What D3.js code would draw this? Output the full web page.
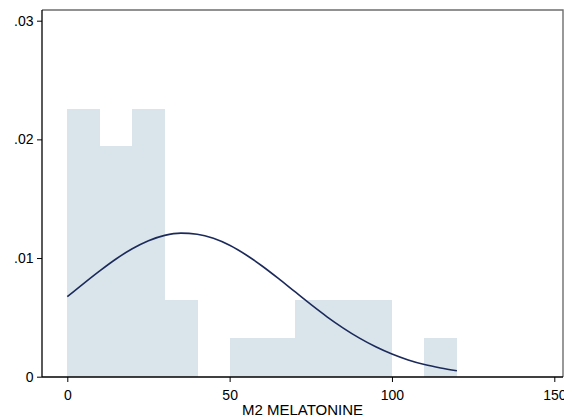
<!DOCTYPE html>
<html>
<head>
<meta charset="utf-8">
<style>
  body { margin: 0; background: #fff; font-family: "Liberation Sans", Arial, sans-serif; }
  .tick text { font-size: 14px; fill: #000; font-family: "Liberation Sans", Arial, sans-serif; }
  .tick line { stroke: #000; }
</style>
<title>M2 MELATONINE histogram</title>
</head>
<body>
<script src="https://cdn.jsdelivr.net/npm/d3@7"></script>
<script>

// histogram bins (start of bin, width 10) and densities
var binStarts = [0, 10, 20, 30, 40, 50, 60, 70, 80, 90, 100, 110];
var binDensity = [0.0226, 0.0194, 0.0226, 0.00645, 0, 0.00323, 0.00323, 0.00645, 0.00645, 0.00645, 0, 0.00323];
var binWidth = 10;

// normal density overlay
var curveX = [0, 5, 10, 15, 20, 25, 30, 35, 40, 45, 50, 55, 60, 65, 70, 75, 80, 85, 90, 95, 100, 105, 110, 115, 120];
var curveY = [0.00674, 0.00785, 0.00892, 0.00992, 0.01078, 0.01146, 0.01191, 0.0121, 0.01201, 0.01167, 0.01108, 0.01028,
              0.00933, 0.00828, 0.00718, 0.00609, 0.00505, 0.0041, 0.00325, 0.00252, 0.00191, 0.00141, 0.00102, 0.00073, 0.0005];

var xTicks = [0, 50, 100, 150];
var yTicks = [0, 0.01, 0.02, 0.03];
var yTickLabels = ["0", ".01", ".02", ".03"];
var xTitle = "M2 MELATONINE";

var W = 564, H = 417;
var plotLeft = 42, plotRight = 563, plotTop = 10, plotBottom = 377;

var svg = d3.select("body").append("svg")
    .attr("width", W)
    .attr("height", H);

var x = d3.scaleLinear().domain([0, 150]).range([67.3, 554.3]);
var y = d3.scaleLinear().domain([0, 0.03]).range([376.7, 20.7]);

// bars
svg.append("g")
  .selectAll("rect")
  .data(binStarts)
  .enter()
  .append("rect")
    .attr("x", (d) => x(d))
    .attr("width", (d) => x(d + binWidth) - x(d) + 0.5)
    .attr("y", (d, i) => y(binDensity[i]))
    .attr("height", (d, i) => y(0) - y(binDensity[i]))
    .attr("shape-rendering", "crispEdges")
    .style("fill", "#d9e4eb");

// normal curve
var line = d3.line()
    .x((d) => x(d))
    .y((d, i) => y(curveY[i]))
    .curve(d3.curveMonotoneX);

svg.append("path")
    .datum(curveX)
    .attr("d", line)
    .style("fill", "none")
    .style("stroke", "#1c2a5a")
    .style("stroke-width", 1.6);

// plot region outline (top and right)
svg.append("path")
    .attr("d", `M${plotLeft},${plotTop}H${plotRight}V${plotBottom}`)
    .style("fill", "none")
    .style("stroke", "#6e6e6e")
    .style("stroke-width", 1.4);

// axes
var xAxis = svg.append("g")
    .attr("transform", `translate(0,${plotBottom})`)
    .call(d3.axisBottom(x).tickValues(xTicks).tickSize(5).tickPadding(8.5).tickFormat(d3.format("d")));
xAxis.select(".domain").attr("d", `M${plotLeft},0H${plotRight}`).style("stroke", "#000").style("stroke-width", 1.3);

var yAxis = svg.append("g")
    .attr("transform", `translate(${plotLeft},0)`)
    .call(d3.axisLeft(y).tickValues(yTicks).tickSize(5).tickPadding(3.5).tickFormat((d, i) => yTickLabels[i]));
yAxis.select(".domain").attr("d", `M0,${plotTop}V${plotBottom}`).style("stroke", "#000").style("stroke-width", 1.3);

// x axis title
svg.append("text")
    .attr("x", (plotLeft + plotRight) / 2)
    .attr("y", 414.5)
    .style("text-anchor", "middle")
    .style("font-size", "15px")
    .text(xTitle);

</script>
</body>
</html>
